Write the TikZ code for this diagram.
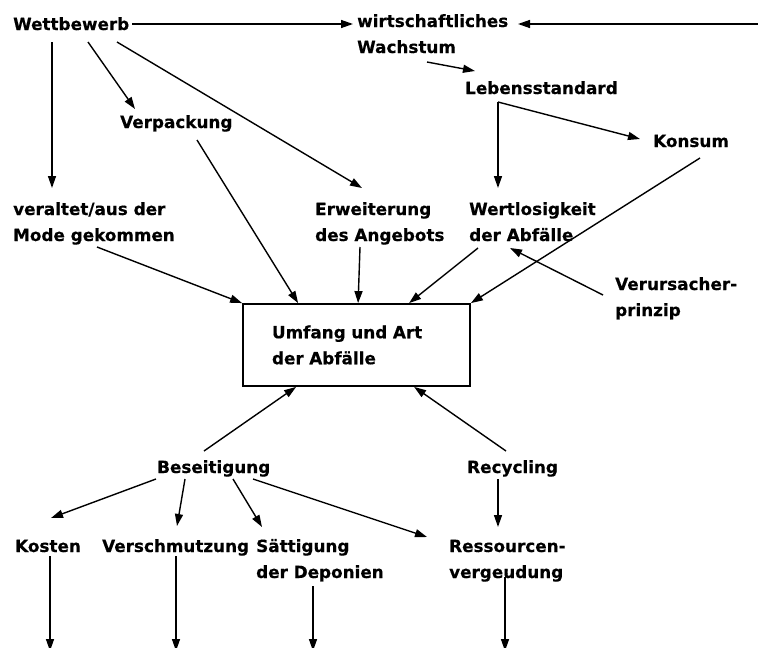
\documentclass[tikz,border=0pt]{standalone}
\usepackage{fontspec}
\setmainfont{DejaVu Sans}[FakeBold=0.4]
\usetikzlibrary{arrows.meta}
\begin{document}
\begin{tikzpicture}[x=1pt,y=-1pt,
  lbl/.style={anchor=base west,inner sep=0pt,align=left,
    font=\fontsize{16.8}{26}\selectfont\bfseries},
  arr/.style={line width=1.4pt,-{Triangle[length=12pt,width=8pt]}},
  box/.style={draw,line width=1.8pt,minimum width=227pt,minimum height=82pt,
    text width=169pt,inner sep=0pt,align=left,
    font=\fontsize{16.8}{26}\selectfont\bfseries}]
\useasboundingbox (0,0) rectangle (758,648);

% concepts (two-line labels sit on the baseline of their last line)
\node[lbl] (wett)   at (13,30)  {Wettbewerb};
\node[lbl] (wirt)   at (357,53) {wirtschaftliches\\Wachstum};
\node[lbl] (leb)    at (465,94) {Lebensstandard};
\node[lbl] (konsum) at (653,147) {Konsum};
\node[lbl] (verp)   at (120,128) {Verpackung};
\node[lbl] (veralt) at (13,241) {veraltet/aus der\\Mode gekommen};
\node[lbl] (erw)    at (315,241) {Erweiterung\\des Angebots};
\node[lbl] (wert)   at (469,241) {Wertlosigkeit\\der Abfälle};
\node[lbl] (verurs) at (615,316) {Verursacher-\\prinzip};
\node[box] (box)    at (356.5,345) {Umfang und Art\\der Abfälle};
\node[lbl] (besei)  at (157,473) {Beseitigung};
\node[lbl] (recyc)  at (467,473) {Recycling};
\node[lbl] (kosten) at (15,552) {Kosten};
\node[lbl] (versch) at (102,552) {Verschmutzung};
\node[lbl] (saett)  at (256,578) {Sättigung\\der Deponien};
\node[lbl] (ress)   at (449,578) {Ressourcen-\\vergeudung};

% free ends
\coordinate (rin) at (758,24);
\coordinate (outA) at (50,651);
\coordinate (outB) at (176,651);
\coordinate (outC) at (313,651);
\coordinate (outD) at (505,651);

% upper half
\draw[arr] ([shift={(119,-6)}]wett.base west) -- ([shift={(-4,-29)}]wirt.base west);
\draw[arr] (rin) -- ([shift={(161,-29)}]wirt.base west);
\draw[arr] ([shift={(70,9)}]wirt.base west) -- ([shift={(10,-23)}]leb.base west);
\draw[arr] ([shift={(33,8)}]leb.base west) -- ([shift={(29,-53)}]wert.base west);
\draw[arr] ([shift={(33,8)}]leb.base west) -- ([shift={(-13,-8)}]konsum.base west);
\draw[arr] ([shift={(47,11)}]konsum.base west) -- (box.north east);
\draw[arr] ([shift={(9,7)}]wert.base west) -- ([xshift=167pt]box.north west);
\draw[arr] ([shift={(-12,-21)}]verurs.base west) -- ([shift={(41,7)}]wert.base west);
\draw[arr] ([shift={(75,12)}]wett.base west) -- ([shift={(15,-19)}]verp.base west);
\draw[arr] ([shift={(104,12)}]wett.base west) -- ([shift={(47,-53)}]erw.base west);
\draw[arr] ([shift={(39,12)}]wett.base west) -- ([shift={(39,-53)}]veralt.base west);
\draw[arr] ([shift={(77,12)}]verp.base west) -- ([xshift=56pt]box.north west);
\draw[arr] ([shift={(84,6)}]veralt.base west) -- (box.north west);
\draw[arr] ([shift={(45,6)}]erw.base west) -- ([xshift=116pt]box.north west);

% lower half
\draw[arr] ([shift={(47,-22)}]besei.base west) -- ([xshift=54pt]box.south west);
\draw[arr] ([shift={(39,-22)}]recyc.base west) -- ([xshift=172pt]box.south west);
\draw[arr] ([shift={(-1,6)}]besei.base west) -- ([shift={(36,-34)}]kosten.base west);
\draw[arr] ([shift={(28,6)}]besei.base west) -- ([shift={(75,-26)}]versch.base west);
\draw[arr] ([shift={(76,6)}]besei.base west) -- ([shift={(6,-51)}]saett.base west);
\draw[arr] ([shift={(96,6)}]besei.base west) -- ([shift={(-22,-41)}]ress.base west);
\draw[arr] ([shift={(31,6)}]recyc.base west) -- ([shift={(49,-51)}]ress.base west);
\draw[arr] ([shift={(35,4)}]kosten.base west) -- (outA);
\draw[arr] ([shift={(74,4)}]versch.base west) -- (outB);
\draw[arr] ([shift={(57,8)}]saett.base west) -- (outC);
\draw[arr] ([shift={(56,-1)}]ress.base west) -- (outD);
\end{tikzpicture}
\end{document}
